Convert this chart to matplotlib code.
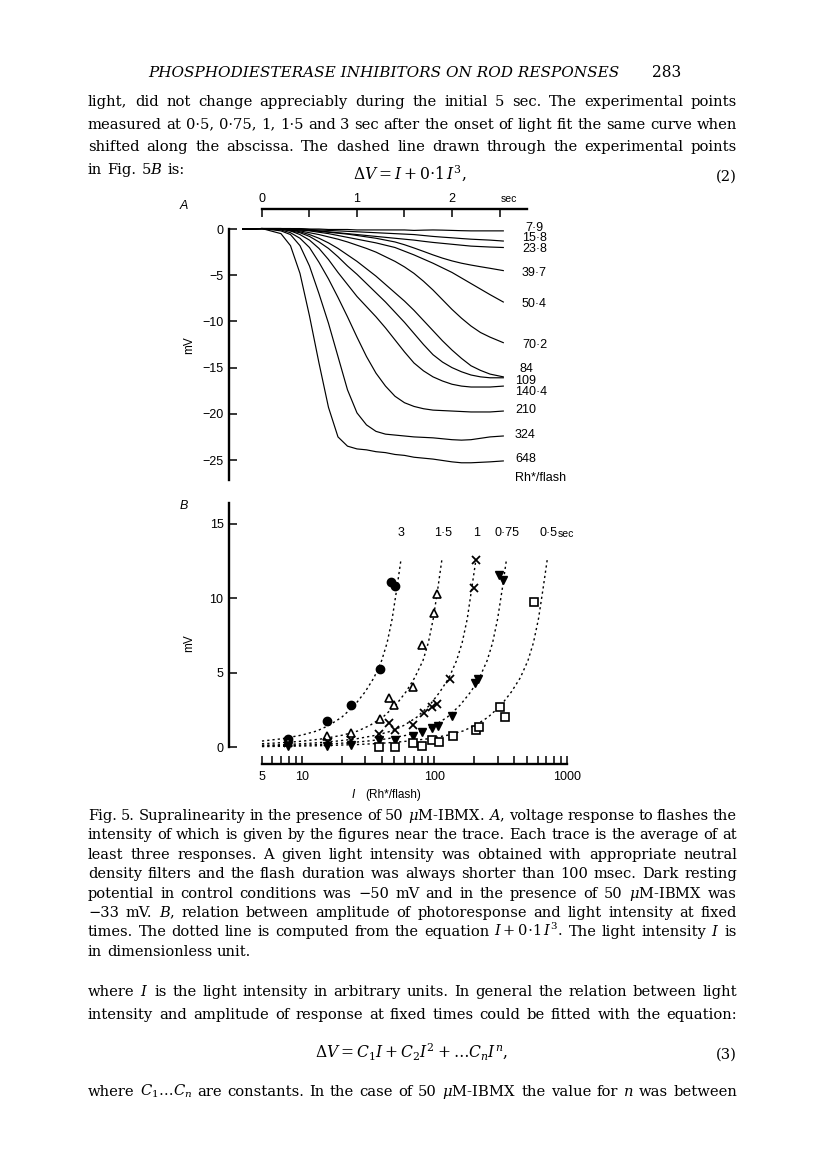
import matplotlib
matplotlib.use("Agg")
import matplotlib.pyplot as plt
from matplotlib.ticker import FixedLocator, FixedFormatter, NullLocator

plt.rcParams['font.family'] = ['Liberation Sans', 'DejaVu Sans']
plt.rcParams['mathtext.fontset'] = 'dejavuserif'

W, H = 816, 1160
SERIF = ['DejaVu Serif']

# ---------------- panel A: voltage responses (mV) vs time (sec) ----------------
t_grid = [-0.2, 0.0, 0.2, 0.3, 0.4, 0.5, 0.6, 0.7, 0.8, 0.9, 1.0, 1.1, 1.2,
          1.3, 1.4, 1.5, 1.6, 1.7, 1.8, 1.9, 2.0, 2.1, 2.2, 2.3, 2.4, 2.54]

v_7_9 = [0.0, 0.05, 0.05, 0.05, 0.05, 0.0, 0.0, -0.05, -0.05, -0.05, -0.1, -0.1, -0.1,
         -0.1, -0.1, -0.1, -0.15, -0.12, -0.1, -0.12, -0.15, -0.18, -0.2, -0.2, -0.2, -0.2]
v_15_8 = [0.0, 0.05, 0.05, 0.05, 0.0, -0.05, -0.1, -0.15, -0.2, -0.25, -0.3, -0.35, -0.4,
          -0.45, -0.5, -0.55, -0.6, -0.7, -0.8, -0.88, -0.95, -1.03, -1.1, -1.15, -1.2, -1.3]
v_23_8 = [0.0, 0.05, 0.05, 0.0, -0.05, -0.1, -0.2, -0.3, -0.4, -0.5, -0.6, -0.7, -0.8,
          -0.9, -1.0, -1.1, -1.2, -1.33, -1.45, -1.55, -1.65, -1.75, -1.85, -1.9, -1.95, -2.0]
v_39_7 = [0.0, 0.05, 0.05, 0.0, -0.1, -0.15, -0.25, -0.35, -0.45, -0.55, -0.7, -0.85, -1.0,
          -1.2, -1.4, -1.7, -2.05, -2.42, -2.8, -3.15, -3.45, -3.7, -3.9, -4.08, -4.25, -4.5]
v_50_4 = [0.0, 0.05, 0.05, 0.0, -0.1, -0.2, -0.35, -0.5, -0.7, -0.9, -1.1, -1.3, -1.5,
          -1.75, -2.0, -2.4, -2.8, -3.25, -3.7, -4.2, -4.7, -5.3, -5.9, -6.5, -7.1, -7.9]
v_70_2 = [0.0, 0.05, 0.0, -0.1, -0.2, -0.4, -0.6, -0.85, -1.1, -1.4, -1.75, -2.1, -2.5,
          -3.0, -3.5, -4.1, -4.8, -5.65, -6.6, -7.65, -8.7, -9.65, -10.5, -11.2, -11.7, -12.3]
v_84 = [0.0, 0.05, 0.0, -0.1, -0.3, -0.6, -1.0, -1.5, -2.1, -2.8, -3.5, -4.3, -5.1,
        -6.0, -6.9, -7.8, -8.8, -9.9, -11.0, -12.1, -13.1, -14.0, -14.8, -15.3, -15.7, -16.0]
v_109 = [0.0, 0.05, 0.0, -0.2, -0.4, -0.8, -1.4, -2.1, -3.0, -4.0, -4.9, -5.9, -6.9,
         -7.9, -9.0, -10.1, -11.3, -12.5, -13.6, -14.4, -15.0, -15.45, -15.8, -16.0, -16.1, -16.1]
v_140_4 = [0.0, 0.05, 0.0, -0.2, -0.6, -1.2, -2.1, -3.3, -4.7, -6.0, -7.3, -8.4, -9.5,
           -10.7, -12.0, -13.3, -14.5, -15.35, -16.0, -16.45, -16.8, -17.0, -17.1, -17.1, -17.1, -17.0]
v_210 = [0.0, 0.05, -0.1, -0.4, -1.0, -2.0, -3.6, -5.4, -7.4, -9.5, -11.7, -13.8, -15.6,
         -17.0, -18.1, -18.8, -19.2, -19.45, -19.6, -19.65, -19.7, -19.75, -19.8, -19.8, -19.8, -19.7]
v_324 = [0.0, 0.05, -0.2, -0.6, -1.8, -4.0, -7.0, -10.2, -13.8, -17.4, -19.9, -21.2, -21.9,
         -22.2, -22.3, -22.4, -22.5, -22.55, -22.6, -22.7, -22.8, -22.85, -22.8, -22.65, -22.5, -22.4]
v_648 = [0.0, 0.05, -0.5, -1.8, -4.8, -9.4, -14.5, -19.3, -22.5, -23.5, -23.8, -23.9, -24.1,
         -24.2, -24.4, -24.5, -24.7, -24.8, -24.9, -25.05, -25.2, -25.3, -25.3, -25.25, -25.2, -25.1]

trace_labels = ['7·9', '15·8', '23·8', '39·7', '50·4', '70·2',
                '84', '109', '140·4', '210', '324', '648']
traces = [v_7_9, v_15_8, v_23_8, v_39_7, v_50_4, v_70_2,
          v_84, v_109, v_140_4, v_210, v_324, v_648]

# ---------------- panel B: amplitude (mV) vs intensity (Rh*/flash) ----------------
# 3 sec, filled circles
circ_I = [7.9, 15.4, 23.3, 38.8, 46.8, 50.5]
circ_V = [0.56, 1.74, 2.8, 5.26, 11.1, 10.8]
# 1.5 sec, open triangles
tri_I = [7.9, 15.4, 23.5, 39.0, 45.6, 49.6, 68.7, 80.8, 99.9, 105.0]
tri_V = [0.35, 0.74, 0.96, 1.88, 3.3, 2.84, 4.0, 6.85, 8.97, 10.27]
# 1 sec, crosses
crs_I = [7.9, 15.8, 23.5, 38.3, 45.5, 50.6, 68.7, 83.2, 95.2, 104.6, 131.0, 198.0, 206.0]
crs_V = [0.25, 0.35, 0.47, 0.89, 1.63, 1.14, 1.48, 2.28, 2.7, 2.89, 4.56, 10.65, 12.55]
# 0.75 sec, filled inverted triangles
dtr_I = [7.9, 15.4, 23.5, 38.3, 50.6, 68.9, 80.8, 96.5, 107.0, 135.0, 203.0, 215.0, 307.0, 330.0]
dtr_V = [0.1, 0.07, 0.13, 0.47, 0.47, 0.72, 1.03, 1.25, 1.41, 2.08, 4.27, 4.54, 11.54, 11.2]
# 0.5 sec, open squares
sq_I = [38.3, 50.6, 69.5, 80.8, 96.5, 108.6, 137.0, 206.0, 217.0, 314.0, 344.0, 565.0]
sq_V = [0.02, 0.0, 0.29, 0.07, 0.47, 0.36, 0.74, 1.14, 1.32, 2.7, 2.03, 9.75]

# dotted curves
c3_I = [5, 7, 10, 13, 16, 20, 25, 30, 35, 40, 44, 48, 52, 56]
c3_V = [0.4, 0.55, 0.8, 1.08, 1.45, 2.0, 2.8, 3.7, 4.65, 5.8, 7.0, 8.6, 10.6, 12.6]
c15_I = [5, 6.1, 8.2, 10.2, 14.3, 20.4, 26.5, 32.6, 40.8, 51, 61, 71, 82, 90, 98, 106, 114]
c15_V = [0.22, 0.26, 0.33, 0.4, 0.55, 0.8, 1.08, 1.45, 2.0, 2.8, 3.7, 4.65, 5.8, 7.0, 8.6, 10.6, 12.6]
c1_I = [5, 7.4, 11, 14.7, 18.4, 25.8, 36.8, 47.8, 58.9, 73.6, 92, 110, 129, 147, 162, 177, 191, 206]
c1_V = [0.12, 0.16, 0.24, 0.32, 0.4, 0.55, 0.8, 1.08, 1.45, 2.0, 2.8, 3.7, 4.65, 5.8, 7.0, 8.6, 10.6, 12.6]
c075_I = [5, 9.4, 12.5, 18.8, 25, 31.3, 43.8, 62.5, 81, 100, 125, 156, 188, 219, 250, 275, 300, 325, 350]
c075_V = [0.07, 0.12, 0.16, 0.24, 0.32, 0.4, 0.55, 0.8, 1.08, 1.45, 2.0, 2.8, 3.7, 4.65, 5.8, 7.0, 8.6, 10.6, 12.6]
c05_I = [5, 12.7, 25.4, 38, 51, 63.5, 89, 127, 165, 203, 254, 318, 381, 445, 508, 559, 610, 660, 711]
c05_V = [0.03, 0.08, 0.16, 0.24, 0.32, 0.4, 0.55, 0.8, 1.08, 1.45, 2.0, 2.8, 3.7, 4.65, 5.8, 7.0, 8.6, 10.6, 12.6]

time_labels = ['3', '1·5', '1', '0·75', '0·5']

# ---------------- page text ----------------
header = 'PHOSPHODIESTERASE INHIBITORS ON ROD RESPONSES'
body_top = [
    'light, did not change appreciably during the initial 5 sec. The experimental points',
    'measured at 0·5, 0·75, 1, 1·5 and 3 sec after the onset of light fit the same curve when',
    'shifted along the abscissa. The dashed line drawn through the experimental points',
]
caption = [
    r'Fig. 5. Supralinearity in the presence of 50 $\mu$M-IBMX. $A$, voltage response to flashes the',
    'intensity of which is given by the figures near the trace. Each trace is the average of at',
    'least three responses. A given light intensity was obtained with appropriate neutral',
    'density filters and the flash duration was always shorter than 100 msec. Dark resting',
    r'potential in control conditions was −50 mV and in the presence of 50 $\mu$M-IBMX was',
    '−33 mV. $B$, relation between amplitude of photoresponse and light intensity at fixed',
    r'times. The dotted line is computed from the equation $I+0{\cdot}1\,I^3$. The light intensity $I$ is',
    'in dimensionless unit.',
]
body_bottom = [
    'where $I$ is the light intensity in arbitrary units. In general the relation between light',
    'intensity and amplitude of response at fixed times could be fitted with the equation:',
]
body_last = r'where $C_1\ldots{}C_n$ are constants. In the case of 50 $\mu$M-IBMX the value for $n$ was between'

fig = plt.figure(figsize=(W / 100, H / 100), dpi=100)
renderer = fig.canvas.get_renderer()


def ftext(x, y, s, **kw):
    return fig.text(x / W, 1 - y / H, s, **kw)


def rect(l, t, r, b):
    return [l / W, 1 - b / H, (r - l) / W, (b - t) / H]


def fit_size(lines, target, base=10.0):
    widest = 0
    for s in lines:
        t = ftext(0, 0, s, fontsize=base, family=SERIF)
        widest = max(widest, t.get_window_extent(renderer).width)
        t.remove()
    return base * target / widest


def text_line(y, s, size, justify=True, left=88, right=737):
    words = s.split(' ')
    items = [ftext(left, y, w, fontsize=size, family=SERIF, va='baseline') for w in words]
    widths = [it.get_window_extent(renderer).width for it in items]
    if justify and len(items) > 1:
        gap = (right - left - sum(widths)) / (len(items) - 1)
    else:
        gap = 0.32 * size * 100 / 72
    x = left
    for it, w in zip(items, widths):
        it.set_x(x / W)
        x += w + gap


body_size = fit_size(body_top + body_bottom + [body_last], 652)
cap_size = fit_size(caption[:-1], 655)

# header
h = ftext(148, 77, header, fontsize=12, family=SERIF, style='italic', va='baseline')
hw = h.get_window_extent(renderer).width
h.set_fontsize(12 * 469 / hw)
ftext(681, 77, '283', fontsize=body_size * 1.05, family=SERIF, ha='right', va='baseline')

for i, s in enumerate(body_top):
    text_line(106 + i * 22.7, s, body_size)
text_line(174, 'in Fig. 5$B$ is:', body_size, justify=False)
ftext(410, 180, r'$\Delta V = I + 0{\cdot}1\,I^3,$', fontsize=body_size * 1.05, ha='center', va='baseline')
ftext(737, 181, '(2)', fontsize=body_size, family=SERIF, ha='right', va='baseline')

for i, s in enumerate(caption):
    text_line(820 + i * 19.4, s, cap_size, justify=(i < len(caption) - 1))

for i, s in enumerate(body_bottom):
    text_line(996 + i * 23, s, body_size)
ftext(412, 1058, r'$\Delta V = C_1I + C_2I^2 + \ldots C_nI^n,$', fontsize=body_size * 1.05,
      ha='center', va='baseline')
ftext(737, 1059, '(3)', fontsize=body_size, family=SERIF, ha='right', va='baseline')
text_line(1096, body_last, body_size)

# ---------------- panel A ----------------
axA = fig.add_axes(rect(229, 205, 530, 482))
for v in traces:
    axA.plot(t_grid, v, color='black', lw=0.85)
axA.set_xlim(-0.347, 2.821)
axA.set_ylim(-27.38, 2.6)
axA.patch.set_alpha(0)
for side in ['right', 'bottom']:
    axA.spines[side].set_visible(False)
axA.spines['left'].set_bounds(-27.2, 0)
axA.spines['left'].set_linewidth(1.7)
axA.spines['top'].set_position(('data', 2.16))
axA.spines['top'].set_bounds(0, 2.79)
axA.spines['top'].set_linewidth(1.7)
axA.xaxis.set_ticks_position('top')
axA.set_xticks([0, 0.5, 1, 1.5, 2, 2.5])
axA.set_xticklabels(['0', '', '1', '', '2', ''])
axA.tick_params(axis='x', direction='in', length=6, width=1.1, pad=3, labelsize=9)
axA.set_yticks([0, -5, -10, -15, -20, -25])
axA.set_yticklabels(['0', '−5', '−10', '−15', '−20', '−25'])
axA.tick_params(axis='y', direction='in', length=5.5, width=1.1, pad=4, labelsize=9)

label_pos = [(525, 228), (522, 238), (522, 249), (522, 273), (522, 304), (522, 345),
             (520, 369), (515, 381), (515, 392), (515, 410), (515, 435), (515, 459)]
for lab, (x, y) in zip(trace_labels, label_pos):
    ftext(x, y, lab, fontsize=9, va='center')
ftext(515, 478, 'Rh*/flash', fontsize=9, va='center')
ftext(509, 199, 'sec', fontsize=7.5, ha='center', va='center')
ftext(184, 206, 'A', fontsize=9, style='italic', ha='center', va='center')
ftext(189, 345, 'mV', fontsize=8.5, rotation=90, ha='center', va='center')

# ---------------- panel B ----------------
axB = fig.add_axes(rect(229, 500, 570, 764))
axB.set_xscale('log')
dot = (0, (1.6, 2.2))
for xi, yi in [(c3_I, c3_V), (c15_I, c15_V), (c1_I, c1_V), (c075_I, c075_V), (c05_I, c05_V)]:
    axB.plot(xi, yi, color='black', lw=1.0, ls=dot)
axB.plot(circ_I, circ_V, 'o', color='black', ms=6)
axB.plot(tri_I, tri_V, '^', mfc='white', mec='black', ms=5.5, mew=1.2)
axB.plot(crs_I, crs_V, 'x', color='black', ms=5.5, mew=1.3)
axB.plot(dtr_I, dtr_V, 'v', color='black', ms=6)
axB.plot(sq_I, sq_V, 's', mfc='white', mec='black', ms=5.5, mew=1.2)
axB.set_xlim(2.82, 1055)
axB.set_ylim(-1.14, 16.58)
axB.patch.set_alpha(0)
for side in ['right', 'top']:
    axB.spines[side].set_visible(False)
axB.spines['left'].set_bounds(0, 16.4)
axB.spines['bottom'].set_bounds(5, 1000)
axB.spines['left'].set_linewidth(1.7)
axB.spines['bottom'].set_linewidth(1.7)
xt = [5, 6, 7, 8, 9, 10, 20, 30, 40, 50, 60, 70, 80, 90,
      100, 200, 300, 400, 500, 600, 700, 800, 900, 1000]
axB.xaxis.set_major_locator(FixedLocator(xt))
axB.xaxis.set_major_formatter(FixedFormatter(
    [str(v) if v in (5, 10, 100, 1000) else '' for v in xt]))
axB.xaxis.set_minor_locator(NullLocator())
axB.tick_params(axis='x', direction='in', length=6, width=1.1, pad=5, labelsize=9)
axB.set_yticks([0, 5, 10, 15])
axB.tick_params(axis='y', direction='in', length=5.5, width=1.1, pad=4, labelsize=9)

for lab, x in zip(time_labels, [401, 443, 477, 507, 549]):
    ftext(x, 533, lab, fontsize=9, ha='center', va='center')
ftext(566, 534, 'sec', fontsize=7.5, ha='center', va='center')
ftext(184, 506, 'B', fontsize=9, style='italic', ha='center', va='center')
ftext(189, 643, 'mV', fontsize=8.5, rotation=90, ha='center', va='center')
ftext(352, 795, 'I', fontsize=8.5, style='italic', va='center')
ftext(365, 795, '(Rh*/flash)', fontsize=8.5, va='center')

fig.savefig('out.png', dpi=100)
